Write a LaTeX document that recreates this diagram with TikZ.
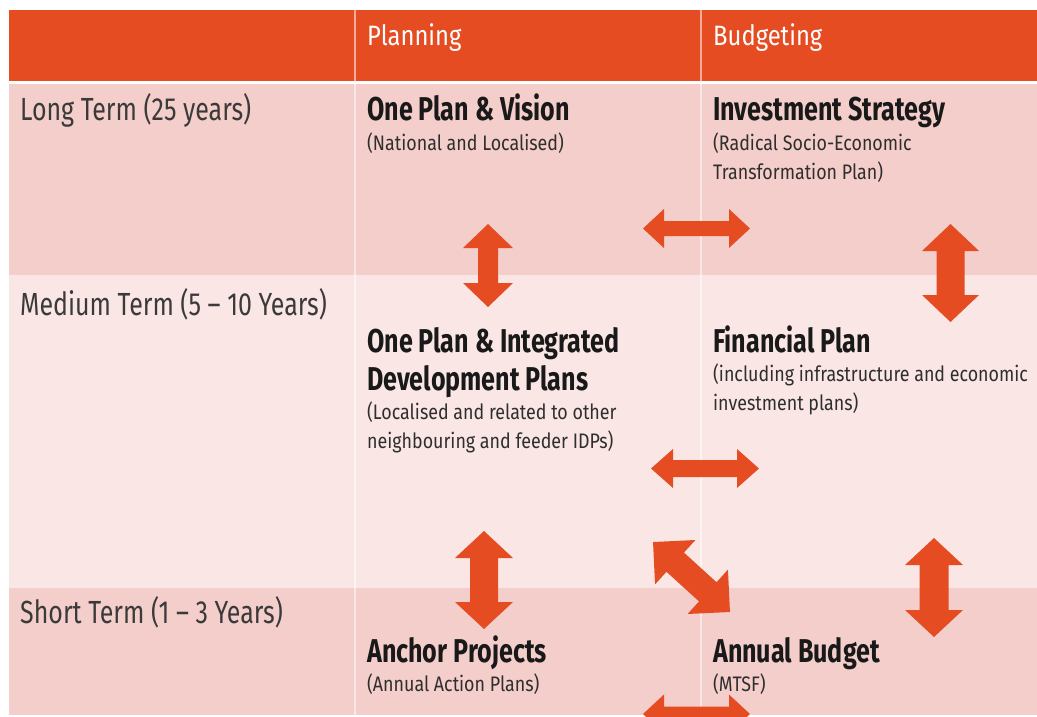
\documentclass[tikz,border=0pt]{standalone}
\usepackage{fontspec}
\setmainfont{Fira Sans}[FakeStretch=0.7]
\newfontfamily\lblfont{Fira Sans}[FakeStretch=0.78]
\newfontfamily\hdrfont{Fira Sans}[FakeStretch=0.85]
\newfontfamily\ttlfont{Fira Sans}[FakeStretch=0.76]
\newfontfamily\subfont{Fira Sans}[FakeStretch=0.85]
\definecolor{hdrorange}{HTML}{E54C22}
\definecolor{rowdark}{HTML}{F4CECB}
\definecolor{rowlight}{HTML}{FAE7E5}
\definecolor{lblgray}{HTML}{3A3A3A}
\definecolor{subgray}{HTML}{2E2E2E}
\tikzset{
  lbl/.style={anchor=base west, inner sep=0pt, text=lblgray, font=\lblfont\fontsize{32}{38}\selectfont},
  hdr/.style={anchor=base west, inner sep=0pt, text=white, font=\hdrfont\fontsize{28}{34}\selectfont},
  ttl/.style={anchor=base west, inner sep=0pt, text=black!90, font=\ttlfont\bfseries\fontsize{33}{38}\selectfont},
  sub/.style={anchor=base west, inner sep=0pt, text=subgray, font=\subfont\fontsize{21}{29}\selectfont},
  arrowc/.style={fill=hdrorange},
  faintdiv/.style={draw=white, draw opacity=0.55, line width=2pt}
}
% double block arrow: cx, cy, angle, length, shaft width, head width, head length
\newcommand\dblarrow[7]{%
  \begin{scope}[shift={(#1,#2)}, rotate=#3]
    \fill[arrowc] (-#4/2,0) -- (-#4/2+#7,#6/2) -- (-#4/2+#7,#5/2) -- (#4/2-#7,#5/2)
      -- (#4/2-#7,#6/2) -- (#4/2,0) -- (#4/2-#7,-#6/2) -- (#4/2-#7,-#5/2)
      -- (-#4/2+#7,-#5/2) -- (-#4/2+#7,-#6/2) -- cycle;
  \end{scope}}
\begin{document}
\begin{tikzpicture}[x=1pt, y=-1pt]
\useasboundingbox[fill=white] (0,0) rectangle (1037,716);
% backgrounds
\fill[hdrorange] (9,10) rectangle (1037,81);
\fill[rowdark] (9,84) rectangle (1037,275);
\fill[rowlight] (9,275) rectangle (1037,588);
\fill[rowdark] (9,588) rectangle (1037,715);
% dividers
\draw[faintdiv] (355,10) -- (355,81);
\draw[faintdiv] (701,10) -- (701,81);
\draw[faintdiv] (355,84) -- (355,715);
\draw[faintdiv] (701,84) -- (701,715);
% header
\node[hdr] (hplan) at (367,45) {Planning};
\node[hdr] (hbud) at (713,45) {Budgeting};
% row labels
\node[lbl] (rlong) at (20,120) {Long Term (25 years)};
\node[lbl] (rmed) at (20,315) {Medium Term (5 – 10 Years)};
\node[lbl] (rshort) at (20,623) {Short Term (1 – 3 Years)};
% long term
\node[ttl] (vision) at (367,120) {One Plan \& Vision};
\node[sub] (visionsub) at (367,150) {(National and Localised)};
\node[ttl] (invest) at (713,120) {Investment Strategy};
\node[sub] (investsub1) at (713,150) {(Radical Socio-Economic};
\node[sub] (investsub2) at (713,179) {Transformation Plan)};
% medium term
\node[ttl] (idp1) at (367,352) {One Plan \& Integrated};
\node[ttl] (idp2) at (367,390) {Development Plans};
\node[sub] (idpsub1) at (367,419) {(Localised and related to other};
\node[sub] (idpsub2) at (367,448) {neighbouring and feeder IDPs)};
\node[ttl] (fin) at (713,352) {Financial Plan};
\node[sub] (finsub1) at (713,381) {(including infrastructure and economic};
\node[sub] (finsub2) at (713,410) {investment plans)};
% short term
\node[ttl] (anchor) at (367,662) {Anchor Projects};
\node[sub] (anchorsub) at (367,691) {(Annual Action Plans)};
\node[ttl] (annual) at (713,662) {Annual Budget};
\node[sub] (annualsub) at (713,691) {(MTSF)};
% arrows
\dblarrow{488}{265.5}{90}{83}{20}{50}{24}
\dblarrow{696.5}{228.5}{0}{107}{15}{39}{21}
\dblarrow{950.5}{273}{90}{98}{28}{57}{27}
\dblarrow{705}{468.5}{0}{108}{17}{39}{22}
\dblarrow{484}{580}{90}{98}{28}{58}{27}
\dblarrow{691.5}{577}{-42.3}{104}{26}{60}{30}
\dblarrow{934}{587.5}{90}{99}{29}{58}{27}
\dblarrow{696.5}{714}{0}{107}{15}{39}{21}
\end{tikzpicture}
\end{document}
